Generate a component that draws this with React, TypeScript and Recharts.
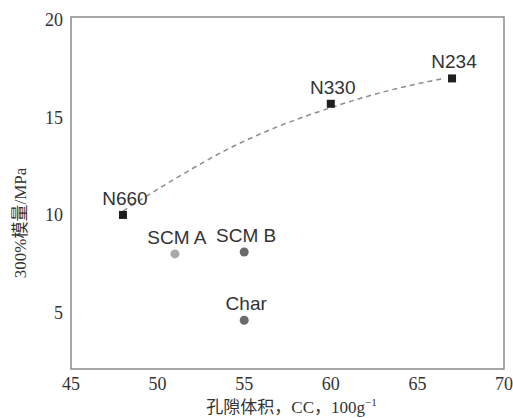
import { ScatterChart, Scatter, XAxis, YAxis, ReferenceArea, Label } from 'recharts'

const carbonNames = ['N660', 'N330', 'N234']
const carbonPore = [48, 60, 67]
const carbonModulus = [10, 15.7, 17]

const scmNames = ['SCM A', 'SCM B', 'Char']
const scmPore = [51, 55, 55]
const scmModulus = [8, 8.1, 4.6]
const scmShades = ['#a9a9a9', '#6b6b6b', '#6b6b6b']

const trendPore = [48, 51, 54, 57, 60, 63, 66.5]
const trendModulus = [10.2, 11.85, 13.35, 14.55, 15.5, 16.3, 17.0]

const xTicks = [45, 50, 55, 60, 65, 70]
const yTicks = [5, 10, 15, 20]

const carbonData = carbonNames.map((name, i) => ({ name, x: carbonPore[i], y: carbonModulus[i] }))
const scmData = scmNames.map((name, i) => ({ name, x: scmPore[i], y: scmModulus[i], fill: scmShades[i] }))
const trendData = trendPore.map((x, i) => ({ x, y: trendModulus[i] }))

const serif = '"Liberation Serif", "Noto Sans CJK SC", serif'
const sans = '"Liberation Sans", Arial, sans-serif'

function PointLabel({ cx, cy, text }: { cx: number; cy: number; text: string }) {
  return (
    <text x={cx + 2} y={cy - 10} textAnchor="middle" fontFamily={sans} fontSize={19} fill="#333">
      {text}
    </text>
  )
}

function SquarePoint(props: any) {
  const { cx, cy, payload } = props
  return (
    <g>
      <rect x={cx - 4} y={cy - 4} width={8} height={8} fill="#1e1e1e" />
      <PointLabel cx={cx} cy={cy} text={payload.name} />
    </g>
  )
}

function RoundPoint(props: any) {
  const { cx, cy, payload } = props
  return (
    <g>
      <circle cx={cx} cy={cy} r={4.5} fill={payload.fill} />
      <PointLabel cx={cx} cy={cy} text={payload.name} />
    </g>
  )
}

function XTitle(props: any) {
  const { viewBox } = props
  const cx = viewBox.x + viewBox.width / 2 + 4
  return (
    <text x={cx} y={viewBox.y + 44} textAnchor="middle" fontFamily={serif} fontSize={17} fill="#333">
      孔隙体积，CC，100g
      <tspan dy={-7} fontSize={11}>−1</tspan>
    </text>
  )
}

function YTitle() {
  return (
    <text
      x={20}
      y={223}
      transform="rotate(-90 20 223)"
      textAnchor="middle"
      dominantBaseline="central"
      fontFamily={serif}
      fontSize={17}
      fill="#333"
    >
      300%模量/MPa
    </text>
  )
}

export default function App() {
  return (
    <div style={{ position: 'absolute', left: 0, top: 0, background: '#fff' }}>
      <ScatterChart width={513} height={418} margin={{ top: 17, right: 9, left: 0, bottom: 0 }}>
        <XAxis
          type="number"
          dataKey="x"
          domain={[45, 70]}
          ticks={xTicks}
          allowDataOverflow
          axisLine={false}
          tickLine={false}
          height={49}
          tick={{ fill: '#333', fontSize: 18, fontFamily: serif }}
        >
          <Label content={<XTitle />} />
        </XAxis>
        <YAxis
          type="number"
          dataKey="y"
          domain={[2.1, 20.15]}
          ticks={yTicks}
          allowDataOverflow
          axisLine={false}
          tickLine={false}
          width={71}
          tick={{ fill: '#333', fontSize: 18, fontFamily: serif }}
        >
          <Label content={<YTitle />} />
        </YAxis>
        <ReferenceArea x1={45} x2={70} y1={2.1} y2={20.15} fill="none" stroke="#8a8a8a" strokeWidth={1.5} />
        <Scatter
          data={trendData}
          line={{ stroke: '#8c8c8c', strokeWidth: 1.5, strokeDasharray: '5 4' }}
          lineJointType="monotoneX"
          shape={() => <g />}
          isAnimationActive={false}
        />
        <Scatter data={carbonData} shape={SquarePoint} isAnimationActive={false} />
        <Scatter data={scmData} shape={RoundPoint} isAnimationActive={false} />
      </ScatterChart>
    </div>
  )
}
